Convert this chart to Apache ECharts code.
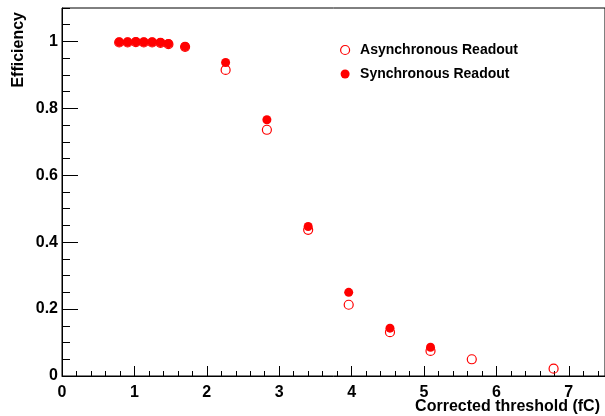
<!DOCTYPE html>
<html>
<head>
<meta charset="utf-8">
<script src="https://cdn.jsdelivr.net/npm/echarts@6/dist/echarts.min.js"></script>
<style>
  html, body { margin: 0; padding: 0; background: #fff; }
  #chart { width: 605px; height: 416px; }
</style>
</head>
<body>
<div id="chart"></div>
<script>
// Corrected threshold (fC) for each measurement point
const asyncThreshold = [0.79, 0.906, 1.02, 1.13, 1.245, 1.36, 1.47, 1.70, 2.26, 2.83, 3.40, 3.96, 4.53, 5.09, 5.66, 6.79];
const asyncEfficiency = [0.997, 0.997, 0.998, 0.997, 0.997, 0.996, 0.992, 0.984, 0.915, 0.736, 0.437, 0.213, 0.131, 0.075, 0.050, 0.022];

const syncThreshold = [0.79, 0.906, 1.02, 1.13, 1.245, 1.36, 1.47, 1.70, 2.26, 2.83, 3.40, 3.96, 4.53, 5.09];
const syncEfficiency = [0.998, 0.998, 0.999, 0.998, 0.998, 0.997, 0.993, 0.985, 0.937, 0.766, 0.447, 0.250, 0.143, 0.086];

const seriesNames = ['Asynchronous Readout', 'Synchronous Readout'];
const xTitle = 'Corrected threshold (fC)';
const yTitle = 'Efficiency';

const pairs = (xs, ys) => xs.map((x, i) => [x, ys[i]]);
const font = 'Liberation Sans, Arial, Helvetica, sans-serif';
const red = '#ff0000';

const chart = echarts.init(document.getElementById('chart'), null, { renderer: 'canvas' });
chart.setOption({
  animation: false,
  backgroundColor: '#ffffff',
  grid: { left: 62, top: 8, width: 543, height: 368, show: true, borderColor: '#000', borderWidth: 1, backgroundColor: 'transparent' },
  xAxis: [
    {
      type: 'value', min: 0, max: 7.5, interval: 1, position: 'bottom',
      axisLine: { show: true, lineStyle: { color: '#000', width: 1 } },
      axisTick: { show: true, inside: true, length: 10, lineStyle: { color: '#000' } },
      axisLabel: { show: true, showMaxLabel: false, margin: 9, color: '#000', fontFamily: font, fontWeight: 'bold', fontSize: 16 },
      splitLine: { show: false }
    },
    {
      type: 'value', min: 0, max: 7.5, interval: 0.2, position: 'bottom',
      axisLine: { show: false },
      axisTick: { show: true, inside: true, length: 5, lineStyle: { color: '#000' } },
      axisLabel: { show: false },
      splitLine: { show: false }
    }
  ],
  yAxis: [
    {
      type: 'value', min: 0, max: 1.1, interval: 0.2, position: 'left',
      axisLine: { show: true, lineStyle: { color: '#000', width: 1 } },
      axisTick: { show: true, inside: true, length: 16, lineStyle: { color: '#000' } },
      axisLabel: { show: true, showMaxLabel: false, margin: 4, color: '#000', fontFamily: font, fontWeight: 'bold', fontSize: 16 },
      splitLine: { show: false }
    },
    {
      type: 'value', min: 0, max: 1.1, interval: 0.05, position: 'left',
      axisLine: { show: false },
      axisTick: { show: true, inside: true, length: 8, lineStyle: { color: '#000' } },
      axisLabel: { show: false },
      splitLine: { show: false }
    }
  ],
  legend: {
    orient: 'vertical', left: 335, top: 37,
    itemWidth: 20, itemHeight: 9, itemGap: 8,
    textStyle: { color: '#000', fontFamily: font, fontWeight: 'bold', fontSize: 14, lineHeight: 16 },
    data: [
      { name: seriesNames[0], icon: 'circle', itemStyle: { color: 'rgba(255,255,255,0)', borderColor: red, borderWidth: 1.2 } },
      { name: seriesNames[1], icon: 'circle', itemStyle: { color: red, borderWidth: 0 } }
    ]
  },
  series: [
    {
      name: seriesNames[0], type: 'scatter', xAxisIndex: 0, yAxisIndex: 0,
      symbol: 'circle', symbolSize: 9, z: 2,
      itemStyle: { color: 'rgba(255,255,255,0)', borderColor: red, borderWidth: 1.2, opacity: 1 },
      data: pairs(asyncThreshold, asyncEfficiency)
    },
    {
      name: seriesNames[1], type: 'scatter', xAxisIndex: 0, yAxisIndex: 0,
      symbol: 'circle', symbolSize: 9, z: 3,
      itemStyle: { color: red, borderWidth: 0, opacity: 1 },
      data: pairs(syncThreshold, syncEfficiency)
    }
  ],
  graphic: [
    {
      type: 'text', x: 600, y: 407,
      style: { text: xTitle, fill: '#000', font: 'bold 16px ' + font, textAlign: 'right', textVerticalAlign: 'middle' }
    },
    {
      type: 'text', x: 18.5, y: 12, rotation: Math.PI / 2,
      style: { text: yTitle, fill: '#000', font: 'bold 16px ' + font, textAlign: 'right', textVerticalAlign: 'middle' }
    }
  ]
});
</script>
</body>
</html>
